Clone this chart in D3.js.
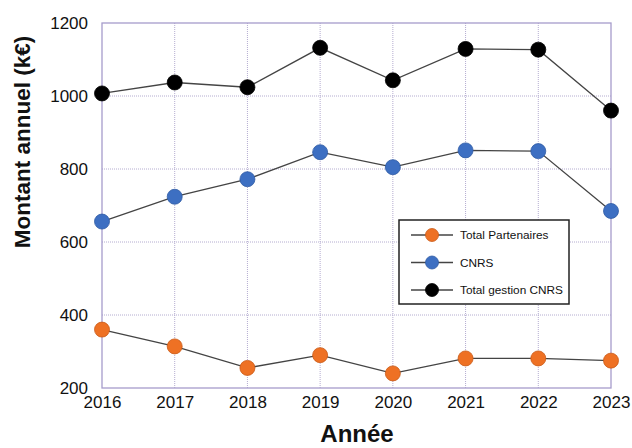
<!DOCTYPE html>
<html><head><meta charset="utf-8">
<script src="https://cdn.jsdelivr.net/npm/d3@7"></script>
<style>body{margin:0;background:#fff;}svg{display:block;font-family:Arial,"Liberation Sans",Helvetica,sans-serif;}</style>
</head><body>
<svg id="c" width="632" height="448"></svg>
<script>
const years = [2016, 2017, 2018, 2019, 2020, 2021, 2022, 2023];
const totalPartenaires = [360, 314, 255, 290, 240, 281, 281, 275];
const cnrs = [656, 724, 772, 846, 805, 851, 849, 685];
const totalGestion = [1007, 1037, 1024, 1132, 1043, 1129, 1127, 960];
const yTicks = [200, 400, 600, 800, 1000, 1200];
const seriesNames = ["Total Partenaires", "CNRS", "Total gestion CNRS"];
const seriesColors = ["#ee7124", "#3d6fc2", "#000000"];
const seriesStroke = ["#c95a18", "#2e5aa3", "#000000"];

const svg = d3.select("#c");
const m = {l: 102, r: 611, t: 23, b: 388};
const x = d3.scaleLinear().domain([2016, 2023]).range([m.l, m.r]);
const y = d3.scaleLinear().domain([200, 1200]).range([m.b, m.t]);

// grid
const grid = svg.append("g");
grid.selectAll("line.v").data(years.slice(1, -1)).join("line")
  .attr("x1", d => x(d)).attr("x2", d => x(d)).attr("y1", m.t).attr("y2", m.b)
  .attr("stroke", "#b4acd0").attr("stroke-width", 1).attr("stroke-dasharray", "1,1");
grid.selectAll("line.h").data(yTicks.slice(1, -1)).join("line")
  .attr("x1", m.l).attr("x2", m.r).attr("y1", d => y(d)).attr("y2", d => y(d))
  .attr("stroke", "#b4acd0").attr("stroke-width", 1).attr("stroke-dasharray", "1,1");

// frame
svg.append("rect").attr("x", m.l).attr("y", m.t).attr("width", m.r - m.l).attr("height", m.b - m.t)
  .attr("fill", "none").attr("stroke", "#a69ccb").attr("stroke-width", 1.3);

// axes
const yAxis = d3.axisLeft(y).tickValues(yTicks).tickSize(0).tickPadding(14).tickFormat(d3.format("d"));
const gy = svg.append("g").attr("transform", `translate(${m.l},0)`).call(yAxis);
gy.select(".domain").remove();
gy.selectAll("text").attr("font-size", 17).attr("fill", "#111").attr("font-family", "Arial, 'Liberation Sans', sans-serif");

const xAxis = d3.axisBottom(x).tickValues(years).tickSize(0).tickPadding(8).tickFormat(d3.format("d"));
const gx = svg.append("g").attr("transform", `translate(0,${m.b})`).call(xAxis);
gx.select(".domain").remove();
gx.selectAll("text").attr("font-size", 17).attr("fill", "#111").attr("font-family", "Arial, 'Liberation Sans', sans-serif");

// titles
svg.append("text").attr("x", 357).attr("y", 442).attr("text-anchor", "middle")
  .attr("font-size", 24).attr("font-weight", "bold").attr("fill", "#111").text("Année");
svg.append("text").attr("transform", "translate(30,142) rotate(-90)").attr("text-anchor", "middle")
  .attr("font-size", 22.5).attr("font-weight", "bold").attr("fill", "#111").text("Montant annuel (k€)");

// series
const data = [totalPartenaires, cnrs, totalGestion];
const line = d3.line().x((d, i) => x(years[i])).y(d => y(d));
data.forEach((vals, s) => {
  svg.append("path").datum(vals).attr("d", line).attr("fill", "none")
    .attr("stroke", "#444").attr("stroke-width", 1.3);
  svg.append("g").selectAll("circle").data(vals).join("circle")
    .attr("cx", (d, i) => x(years[i])).attr("cy", d => y(d)).attr("r", 7.5)
    .attr("fill", seriesColors[s]).attr("stroke", seriesStroke[s]).attr("stroke-width", 0.8);
});

// legend
const lg = svg.append("g");
lg.append("rect").attr("x", 399).attr("y", 220).attr("width", 170).attr("height", 84)
  .attr("fill", "#fff").attr("stroke", "#222").attr("stroke-width", 1.5);
seriesNames.forEach((n, i) => {
  const yy = 235 + i * 27.5;
  lg.append("line").attr("x1", 411).attr("x2", 453).attr("y1", yy).attr("y2", yy)
    .attr("stroke", "#444").attr("stroke-width", 1.3);
  lg.append("circle").attr("cx", 432).attr("cy", yy).attr("r", 6.5)
    .attr("fill", seriesColors[i]).attr("stroke", seriesStroke[i]).attr("stroke-width", 0.8);
  lg.append("text").attr("x", 460).attr("y", yy + 4).attr("font-size", 11.8).attr("fill", "#111").text(n);
});
</script>
</body></html>
